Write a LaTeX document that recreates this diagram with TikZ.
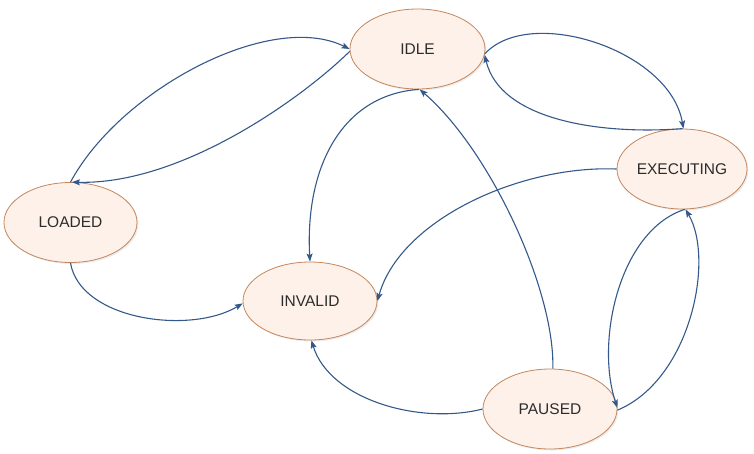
\documentclass[tikz,border=0pt]{standalone}
\usepackage{fontspec}
\setmainfont{Liberation Sans}
\usetikzlibrary{arrows.meta,shapes.geometric,shadows}
\definecolor{edgeblue}{RGB}{52,88,138}
\definecolor{stateborder}{RGB}{196,134,92}
\definecolor{statefill}{RGB}{253,241,233}
\definecolor{statetext}{RGB}{45,45,45}
\tikzset{
  state/.style={ellipse, draw=stateborder, line width=0.8pt, fill=statefill,
    inner sep=0pt, text=statetext, font=\fontsize{15.5}{18}\selectfont,
    drop shadow={shadow xshift=1.5pt, shadow yshift=-1.5pt, opacity=0.15, fill=gray}},
  trans/.style={draw=edgeblue, line width=1.1pt, -{Stealth[length=8pt,width=6pt,inset=1.5pt]}}
}
\begin{document}
\begin{tikzpicture}[x=1pt,y=-1pt]
\useasboundingbox (0,0) rectangle (754,453);
\node[state, minimum width=135pt, minimum height=80pt] (IDLE) at (417.5,49) {IDLE};
\node[state, minimum width=130pt, minimum height=80pt] (EXEC) at (682,169) {EXECUTING};
\node[state, minimum width=133pt, minimum height=80pt] (LOADED) at (70.5,222.5) {LOADED};
\node[state, minimum width=134pt, minimum height=78pt] (INVALID) at (310,301) {INVALID};
\node[state, minimum width=134pt, minimum height=80pt] (PAUSED) at (550,409) {PAUSED};

% LOADED <-> IDLE
\draw[trans] (LOADED.90) .. controls (120,90) and (270,10) .. (IDLE.180);
\draw[trans] (IDLE.182) .. controls (300,100) and (180,185) .. (LOADED.88);
% LOADED -> INVALID
\draw[trans] (LOADED.270) .. controls (80,320) and (190,335) .. (INVALID.182);
% IDLE -> INVALID
\draw[trans] (IDLE.-88) .. controls (340,95) and (305,170) .. (INVALID.90);
% PAUSED -> IDLE
\draw[trans] (PAUSED.86) .. controls (555,290) and (490,150) .. (IDLE.-87);
% IDLE <-> EXECUTING
\draw[trans] (IDLE.-4) .. controls (530,5) and (670,50) .. (EXEC.88);
\draw[trans] (EXEC.89) .. controls (600,135) and (500,120) .. (IDLE.-5);
% EXECUTING -> INVALID
\draw[trans] (EXEC.180) .. controls (520,165) and (400,220) .. (INVALID.0);
% EXECUTING <-> PAUSED
\draw[trans] (EXEC.-86) .. controls (620,230) and (595,340) .. (PAUSED.1);
\draw[trans] (PAUSED.-1) .. controls (690,380) and (715,260) .. (EXEC.-85);
% PAUSED -> INVALID
\draw[trans] (PAUSED.180) .. controls (420,425) and (330,400) .. (INVALID.-88);
\end{tikzpicture}
\end{document}
